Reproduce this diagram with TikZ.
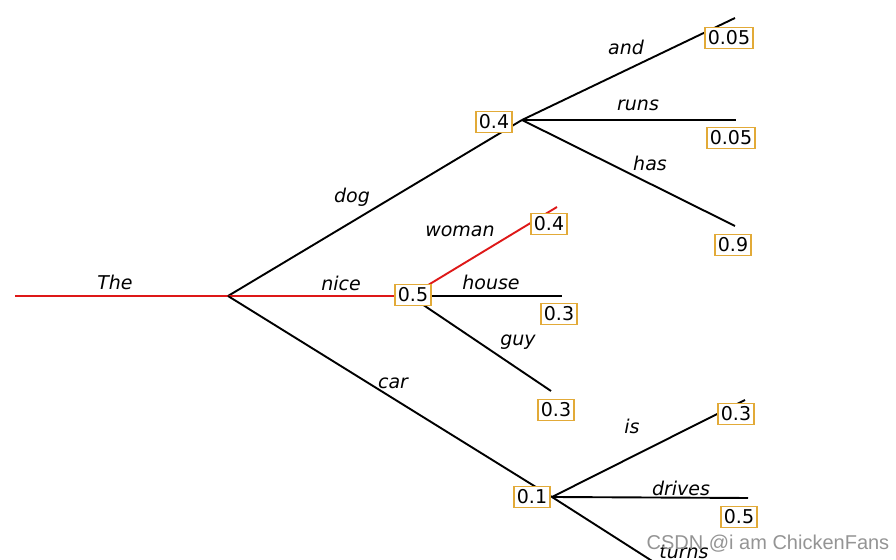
\documentclass[tikz,border=0pt]{standalone}
\usepackage{fontspec}
\setmainfont{DejaVu Sans}
\newfontfamily\markfont{Liberation Sans}
\usetikzlibrary{positioning}
\definecolor{probline}{RGB}{226,170,56}
\definecolor{pathred}{RGB}{222,24,24}

\begin{document}
\begin{tikzpicture}[x=0.5pt, y=-0.5pt, font=\fontsize{9.5}{11}\selectfont,
    edge/.style={line width=0.95pt, black},
    best/.style={line width=0.95pt, pathred},
    prob/.style={draw=probline, line width=0.75pt, fill=white, inner xsep=1.4pt, inner ysep=1.7pt},
    word/.style={font=\fontsize{9.5}{11}\selectfont\itshape}]
      \useasboundingbox (0,0) rectangle (896,560);
      \clip (0,0) rectangle (896,560);
      \coordinate(start) at (15,296);
      \coordinate(root) at (228,296);
      \coordinate(dog) at (522,120);
      \coordinate(nice) at (410,296);
      \coordinate(car) at (552,497);
      \coordinate(and) at (735,18);
      \coordinate(runs) at (736,120);
      \coordinate(has) at (735,226);
      \coordinate(woman) at (557,207);
      \coordinate(house) at (562,296);
      \coordinate(guy) at (551,391);
      \coordinate(is) at (745,400);
      \coordinate(drives) at (748,498);
      \coordinate(turns) at (760,630);

      \draw[best](start) -- (root);
      \draw[edge](root) -- (dog);
      \draw[best](root) -- (nice);
      \draw[edge](root) -- (car);
      \draw[edge](dog) -- (and);
      \draw[edge](dog) -- (runs);
      \draw[edge](dog) -- (has);
      \draw[best](nice) -- (woman);
      \draw[edge](nice) -- (house);
      \draw[edge](nice) -- (guy);
      \draw[edge](car) -- (is);
      \draw[edge](car) -- (drives);
      \draw[edge](car) -- (turns);

      \node(pdog) [prob] at (494,122) {0.4};
      \node(pnice) [prob] at (413,295) {0.5};
      \node(pcar) [prob] at (532,497) {0.1};
      \node(pand) [prob] at (729,38) {0.05};
      \node(pruns) [prob] at (731,138) {0.05};
      \node(phas) [prob] at (733,245) {0.9};
      \node(pwoman) [prob] at (549,224) {0.4};
      \node(phouse) [prob] at (559,314) {0.3};
      \node(pguy) [prob] at (556,410) {0.3};
      \node(pis) [prob] at (736,414) {0.3};
      \node(pdrives) [prob] at (739,517) {0.5};

      \node(lthe) [word] at (115,282) {The};
      \node(ldog) [word] at (352,197) {dog};
      \node(lnice) [word] at (341,283) {nice};
      \node(lcar) [word] at (393,383) {car};
      \node(land) [word] at (626,47) {and};
      \node(lruns) [word] at (638,105) {runs};
      \node(lhas) [word] at (650,163) {has};
      \node(lwoman) [word] at (460,231) {woman};
      \node(lhouse) [word] at (491,282) {house};
      \node(lguy) [word] at (518,342) {guy};
      \node(lis) [word] at (632,426) {is};
      \node(ldrives) [word] at (681,488) {drives};
      \node(lturns) [word] at (684,552) {turns};
      \node(mark) [text=black!42, font=\markfont\fontsize{10}{12}\selectfont] at (768,544) {CSDN @i am ChickenFans};
    \end{tikzpicture}
\end{document}
